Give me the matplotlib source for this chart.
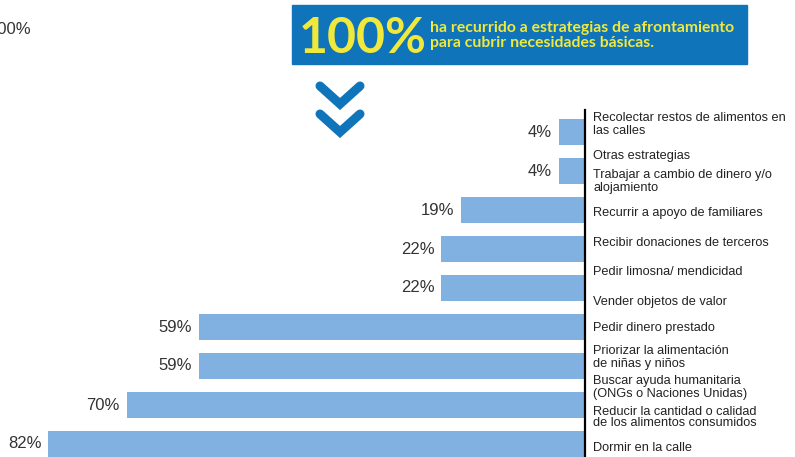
import matplotlib.pyplot as plt
from matplotlib.patches import Rectangle

# datos
valores = [4, 4, 19, 22, 22, 59, 59, 70, 82]
etiquetas_valor = ["4%", "4%", "19%", "22%", "22%", "59%", "59%", "70%", "82%"]
categorias = [
    "Recolectar restos de alimentos en\nlas calles",
    "Otras estrategias",
    "Trabajar a cambio de dinero y/o\nalojamiento",
    "Recurrir a apoyo de familiares",
    "Recibir donaciones de terceros",
    "Pedir limosna/ mendicidad",
    "Vender objetos de valor",
    "Pedir dinero prestado",
    "Priorizar la alimentación\nde niñas y niños",
    "Buscar ayuda humanitaria\n(ONGs o Naciones Unidas)",
    "Reducir la cantidad o calidad\nde los alimentos consumidos",
    "Dormir en la calle",
]
titulo_valor = "100%"
titulo_texto = "ha recurrido a estrategias de afrontamiento\npara cubrir necesidades básicas."

# posiciones de las etiquetas de la derecha (en unidades de barra)
pos_categorias = [-0.19, 0.615, 1.27, 2.08, 2.85, 3.59, 4.36, 5.03, 5.78, 6.56, 7.32, 8.10]
interlineado = [1.2, 1.2, 1.2, 1.2, 1.2, 1.2, 1.2, 1.2, 1.05, 1.1, 0.85, 1.2]

W, H = 795, 457
AZUL = "#1074BB"
AMARILLO = "#F1E83C"
BARRA = "#80B1E0"
GRIS = "#333333"


def px(x, y):
    return x / W, 1 - y / H


fig = plt.figure(figsize=(W / 100, H / 100), dpi=100)
ax = fig.add_axes([0, 0, 585 / W, 1])

y = list(range(len(valores)))
ax.barh(y, valores, height=0.667, color=BARRA)
ax.set_xlim(585 / 6.55, 0)
ax.set_ylim((H - 132) / 39, -132 / 39)

for yi, v, t in zip(y, valores, etiquetas_valor):
    ax.text(v + 1.0, yi, t, ha="right", va="center", fontsize=12,
            color=GRIS, family="Liberation Sans")

for s in ["top", "left", "bottom"]:
    ax.spines[s].set_visible(False)
ax.spines["right"].set_bounds(-22 / 39, (H - 132) / 39)
ax.spines["right"].set_linewidth(1.6)
ax.set_xticks([])
ax.set_yticks([])
ax.patch.set_alpha(0)

for texto, yp, ls in zip(categorias, pos_categorias, interlineado):
    ax.text(1 + 8 / 585, yp, texto, transform=ax.get_yaxis_transform(),
            ha="left", va="center", fontsize=9.2, color="#222222",
            family="Liberation Sans", linespacing=ls, clip_on=False)

# recuadro superior
x0, y0 = px(292, 64)
fig.patches.append(Rectangle((x0, y0), (747 - 292) / W, (64 - 5) / H,
                             transform=fig.transFigure, color=AZUL, zorder=0))
fig.text(*px(299, 53), titulo_valor, fontsize=36, fontweight="bold",
         family="Lato", color=AMARILLO, ha="left", va="baseline")
fig.text(*px(430, 35.5), titulo_texto, fontsize=11.3, fontweight="bold",
         family="Lato", color=AMARILLO, ha="left", va="center", linespacing=1.05)

# flechas
for dy in [0, 28]:
    xs = [320 / W, 340 / W, 360 / W]
    ys = [1 - (86 + dy) / H, 1 - (104 + dy) / H, 1 - (86 + dy) / H]
    fig.add_artist(plt.Line2D(xs, ys, transform=fig.transFigure, color=AZUL,
                              lw=6.5, solid_capstyle="round", solid_joinstyle="miter"))

# texto cortado arriba a la izquierda
fig.text(*px(31, 30), "100%", fontsize=12, color=GRIS, family="Liberation Sans",
         ha="right", va="center")

fig.savefig("out.png", dpi=100)
